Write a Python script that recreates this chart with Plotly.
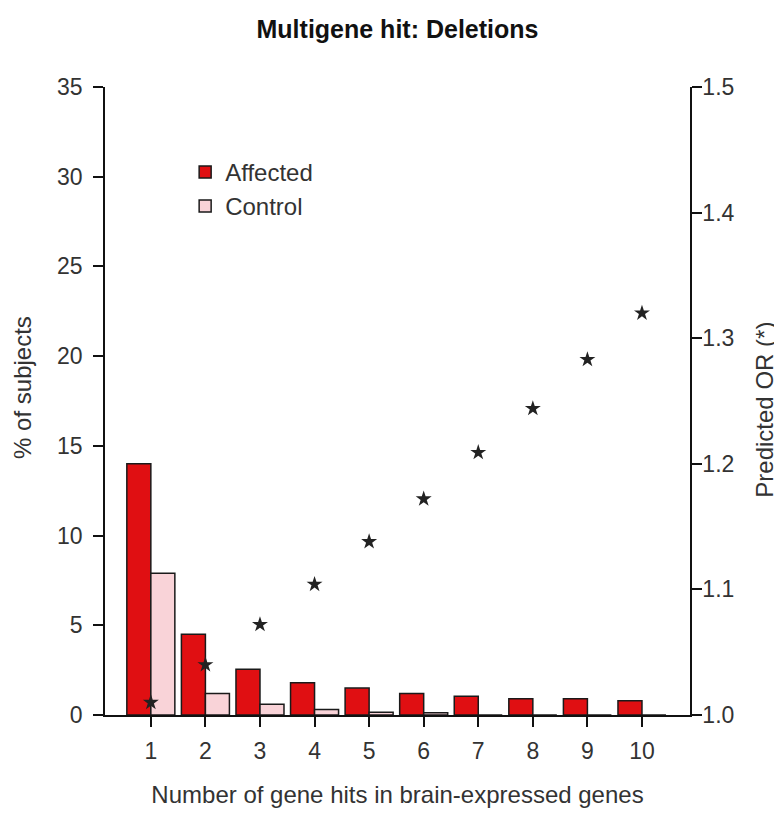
import plotly.graph_objects as go

hits = [1, 2, 3, 4, 5, 6, 7, 8, 9, 10]
affected = [14.0, 4.5, 2.55, 1.8, 1.5, 1.2, 1.05, 0.9, 0.9, 0.8]
control = [7.9, 1.2, 0.6, 0.3, 0.15, 0.12, 0.0, 0.0, 0.0, 0.0]
predicted_or = [1.01, 1.04, 1.072, 1.104, 1.138, 1.172, 1.209, 1.244, 1.283, 1.32]

FONT = "Liberation Sans, Arial, sans-serif"
TXT = "#333333"

fig = go.Figure()
fig.add_trace(go.Bar(x=hits, y=affected, name="Affected", legendgroup="a",
                     marker=dict(color="#E00F12", line=dict(color="#1a1a1a", width=1.5))))
fig.add_trace(go.Bar(x=hits, y=control, name="Control", legendgroup="c",
                     marker=dict(color="#F9D3D8", line=dict(color="#1a1a1a", width=1.5))))
fig.add_trace(go.Scatter(x=hits, y=predicted_or, yaxis="y2", mode="markers",
                         marker=dict(symbol="star", size=12, color="#222222"),
                         showlegend=False, name="Predicted OR"))

axis_common = dict(showline=True, linecolor="#111111", linewidth=1.5, ticks="outside",
                   ticklen=10, tickwidth=1.5, tickcolor="#111111", showgrid=False,
                   zeroline=False, tickfont=dict(family=FONT, size=23, color=TXT))

fig.update_layout(
    width=782, height=819,
    margin=dict(l=97, r=100, t=79, b=112),
    plot_bgcolor="white", paper_bgcolor="white",
    barmode="group", bargap=0.12, bargroupgap=0.0,
    font=dict(family=FONT, color=TXT),
    title=dict(text="<b>Multigene hit: Deletions</b>", x=0.5, xref="paper",
               y=1 - 21 / 819, yref="container", yanchor="middle",
               font=dict(family=FONT, size=25, color="#111111")),
    xaxis=dict(range=[0.16, 10.88], tickvals=hits, ticktext=[str(h) for h in hits],
               title=dict(text="Number of gene hits in brain-expressed genes",
                          font=dict(family=FONT, size=24, color=TXT), standoff=23),
               ticklabelstandoff=5,
               **axis_common),
    yaxis=dict(range=[0, 35], dtick=5, tickmode="linear", tick0=0,
               ticklabelstandoff=6,
               **axis_common),
    yaxis2=dict(range=[1.0, 1.5], dtick=0.1, tick0=1.0, tickmode="linear", tickformat=".1f",
                overlaying="y", side="right", ticklabelstandoff=-4,
                **axis_common),
    legend=dict(x=0.137, y=0.90, xanchor="left", yanchor="top", tracegroupgap=11,
                font=dict(family=FONT, size=24, color=TXT), bgcolor="rgba(0,0,0,0)",
                traceorder="normal"),
    annotations=[
        dict(text="% of subjects", textangle=-90, xref="paper", yref="paper",
             x=-0.14, y=0.521, xanchor="center", yanchor="middle", showarrow=False,
             font=dict(family=FONT, size=24, color=TXT)),
        dict(text="Predicted OR (*)", textangle=-90, xref="paper", yref="paper",
             x=1.128, y=0.486, xanchor="center", yanchor="middle", showarrow=False,
             font=dict(family=FONT, size=24, color=TXT)),
    ],
)

fig.write_html("out.html")
